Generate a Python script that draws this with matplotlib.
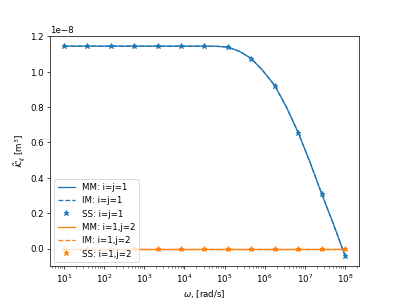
import numpy as np
import matplotlib
matplotlib.use("Agg")
import matplotlib.pyplot as plt

# frequencies where the SS solution was sampled
omega_ss = np.logspace(1, 8, 13)
# finer grid for the MM / IM curves
omega_mm = np.logspace(1, 8, 25)

ss_11 = np.array([1.145, 1.145, 1.145, 1.145, 1.145, 1.145, 1.145,
                  1.14, 1.075, 0.922, 0.656, 0.311, -0.04]) * 1e-8
mm_11 = np.array([1.145, 1.145, 1.145, 1.145, 1.145, 1.145, 1.145,
                  1.145, 1.145, 1.145, 1.145, 1.145, 1.145, 1.144,
                  1.14, 1.115, 1.075, 1.005, 0.922, 0.80, 0.656,
                  0.49, 0.311, 0.14, -0.04]) * 1e-8
im_11 = mm_11.copy()
ss_12 = np.zeros(13)
mm_12 = np.zeros(25)
im_12 = np.zeros(25)

fig, ax = plt.subplots(figsize=(6.4, 4.8), dpi=62.34)

ax.semilogx(omega_mm, mm_11, '-', color='C0', label='MM: i=j=1')
ax.semilogx(omega_mm, im_11, '--', color='C0', label='IM: i=j=1')
ax.semilogx(omega_ss, ss_11, '*', color='C0', label='SS: i=j=1')
ax.semilogx(omega_mm, mm_12, '-', color='C1', label='MM: i=1,j=2')
ax.semilogx(omega_mm, im_12, '--', color='C1', label='IM: i=1,j=2')
ax.semilogx(omega_ss, ss_12, '*', color='C1', label='SS: i=1,j=2')

ax.set_xlabel(r'$\omega$, [rad/s]')
ax.set_ylabel(r'$\tilde{\mathcal{K}}_{ij}$ [m$^3$]')
ax.legend(loc='lower left')

fig.savefig('out.png', dpi=62.34)
